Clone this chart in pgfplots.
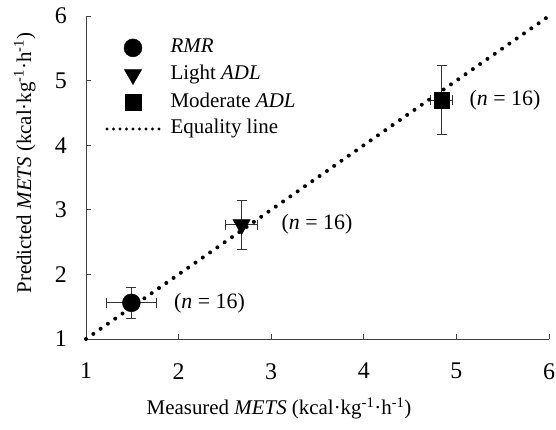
\documentclass[border=0pt]{standalone}
\usepackage{fontspec}
\setmainfont{Liberation Serif}
\usepackage{pgfplots}
\pgfplotsset{compat=1.18}

\begin{document}
\fontsize{21}{25}\selectfont
\begin{tikzpicture}
\begin{axis}[
    scale only axis,
    width=463bp, height=323bp,
    xmin=1, xmax=6, ymin=1, ymax=6,
    xtick={1,...,6}, ytick={1,...,6},
    axis x line=bottom, axis y line=left,
    axis line style={-, black!75, line width=0.9bp},
    tick style={black!75, line width=0.9bp},
    major tick length=5bp,
    tick align=inside,
    /pgf/number format/assume math mode=true,
    tick label style={font=\fontsize{24}{28}\selectfont, inner sep=0pt},
    xticklabel style={anchor=north, yshift=-24bp},
    yticklabel style={anchor=east, xshift=-19bp},
    xlabel={Measured \textit{METS} (kcal·kg\textsuperscript{-1}·h\textsuperscript{-1})},
    ylabel={Predicted \textit{METS} (kcal·kg\textsuperscript{-1}·h\textsuperscript{-1})},
    xlabel style={at={(axis description cs:0.417,-0.235)}, anchor=base},
    ylabel style={at={(axis description cs:-0.132,0.545)}, anchor=center, rotate=0},
    clip=false,
    legend style={draw=none, fill=none, at={(axis description cs:0.035,0.936)}, anchor=north west,
        nodes={inner sep=0pt, text height=14bp, text depth=4bp},
        row sep=8.7bp, column sep=10bp, font=\fontsize{21}{25}\selectfont},
    legend cell align=left,
    legend image code/.code={\draw[mark repeat=2,mark phase=2,#1] plot coordinates {(0bp,0bp) (26bp,0bp) (52bp,0bp)};},
    error bars/error bar style={black!80, line width=0.8bp},
    error bars/error mark options={rotate=90, mark size=5bp, black!80, line width=0.8bp},
]
\coordinate (bl) at (rel axis cs:0,0);
\addplot[only marks, mark=*, mark size=9bp, black,
    error bars/.cd, x dir=both, y dir=both, x explicit, y explicit]
    coordinates {(1.49,1.56) +- (0.27,0.24)};
\addlegendentry{\textit{RMR}}
\addplot[only marks, mark=triangle*, mark size=10bp, mark options={rotate=180}, black,
    error bars/.cd, x dir=both, y dir=both, x explicit, y explicit]
    coordinates {(2.68,2.77) +- (0.17,0.38)};
\addlegendentry{Light \textit{ADL}}
\addplot[only marks, mark=square*, mark size=7.8bp, black,
    error bars/.cd, x dir=both, y dir=both, x explicit, y explicit]
    coordinates {(4.84,4.70) +- (0.12,0.54)};
\addlegendentry{Moderate \textit{ADL}}
\addplot[black, line width=4bp, line cap=round, dash pattern=on 0bp off 8.9bp,
    legend image post style={line width=3.2bp, dash pattern=on 0bp off 6.5bp}]
    coordinates {(1,1) (6,6)};
\addlegendentry{Equality line}

\node[anchor=west, inner sep=0pt, font=\fontsize{22}{26}\selectfont] at (axis cs:1.95,1.56) {(\textit{n} = 16)};
\node[anchor=west, inner sep=0pt, font=\fontsize{22}{26}\selectfont] at (axis cs:3.11,2.77) {(\textit{n} = 16)};
\node[anchor=west, inner sep=0pt, font=\fontsize{22}{26}\selectfont] at (axis cs:5.14,4.70) {(\textit{n} = 16)};
\end{axis}
\pgfresetboundingbox
\path ([shift={(-86bp,-91bp)}]bl) rectangle ([shift={(470bp,339bp)}]bl);
\end{tikzpicture}
\end{document}
